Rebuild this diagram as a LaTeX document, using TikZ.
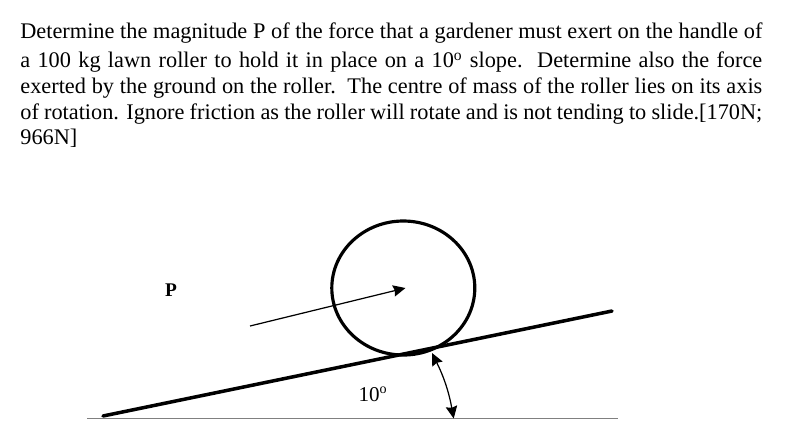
\documentclass[tikz,border=0pt]{standalone}
\usepackage{fontspec}
\setmainfont{Liberation Serif}
\usetikzlibrary{arrows.meta,shapes.geometric}
\tikzset{
	slopeline/.style={line width=2pt,line cap=round},
	forcearrow/.style={line width=0.7pt,-{Stealth[length=7pt,width=6.5pt,inset=0.8pt]}},
	anglearrow/.style={line width=0.7pt,{Stealth[length=7pt,width=6.5pt,inset=0.8pt]}-{Stealth[length=7pt,width=6.5pt,inset=0.8pt]}}
}
\begin{document}
\begin{tikzpicture}[x=0.02cm,y=-0.02cm]
	\useasboundingbox (0,0) rectangle (793,440);
	\coordinate (centre) at (403.3,288);
	\coordinate (slope_low) at (103,416);
	\coordinate (slope_high) at (612,311);
	\coordinate (ground_left) at (87,418.5);
	\coordinate (ground_right) at (618,418.5);
	\coordinate (handle) at (250,326);
	\coordinate (tip) at (405.5,288);
	\coordinate (arc_up) at (432,353);
	\coordinate (arc_down) at (453.7,418.5);

	\node[anchor=north west,inner sep=0pt,text width=742*0.02cm,align=justify,font=\fontsize{12.7}{14.6}\selectfont] (Question) at (20,22.5) {Determine the magnitude P of the force that a gardener must exert on the handle of\vadjust{\vskip 2pt}\linebreak a 100 kg lawn roller to hold it in place on a 10$^{\mathrm{o}}$ slope.\ \ Determine also the force\linebreak exerted by the ground on the roller.\ \ The centre of mass of the roller lies on its axis\linebreak of rotation. Ignore friction as the roller will rotate and is not tending to slide.[170N;\linebreak 966N]};
	\node[font=\bfseries\fontsize{11}{13}\selectfont] (LabelP) at (171,290) {P};
	\node[font=\fontsize{12}{14}\selectfont] (LabelAngle) at (373,394) {10$^{\mathrm{o}}$};

	\draw[gray,line width=1pt] (ground_left) -- (ground_right);
	\draw[slopeline] (slope_low) -- (slope_high);
	\node[draw,ellipse,line width=1.8pt,minimum width=143*0.02cm,minimum height=134*0.02cm,inner sep=0pt] (Roller) at (centre) {};
	\draw[forcearrow] (handle) -- (tip);
	\draw[anglearrow] (arc_up) to[bend left=8] (arc_down);
\end{tikzpicture}
\end{document}
